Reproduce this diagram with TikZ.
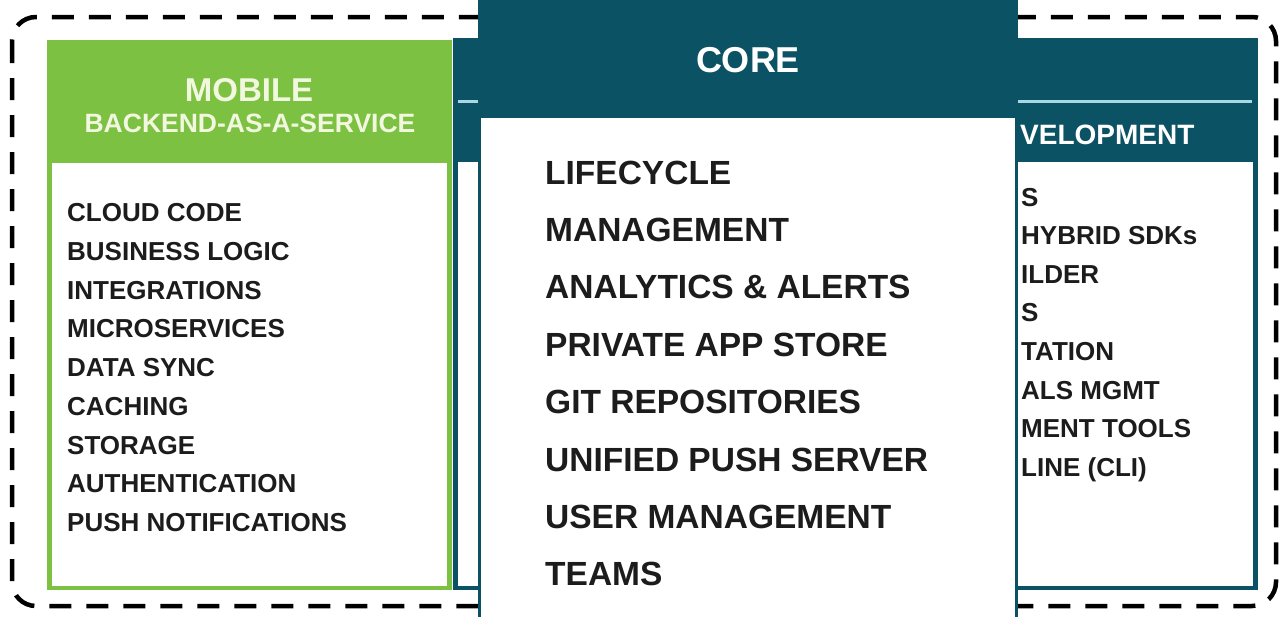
\documentclass[tikz,border=0pt]{standalone}
\usepackage{fontspec}
\setmainfont{Liberation Sans}
\definecolor{mbaasgreen}{HTML}{7DC143}
\definecolor{coreteal}{HTML}{0B5264}
\definecolor{rulecol}{HTML}{A8D8E2}
\definecolor{cream}{HTML}{F2F8DF}
\definecolor{ink}{HTML}{1C1C1C}
\begin{document}
\begin{tikzpicture}[x=1pt, y=-1pt,
            frame/.style={black, line width=4.5pt, dash pattern=on 22pt off 15pt, rounded corners=24pt},
            greenbox/.style={fill=mbaasgreen},
            tealbox/.style={fill=coreteal},
            body/.style={fill=white},
            hline/.style={rulecol, line width=3pt},
            item/.style={anchor=base west, inner sep=0pt, text=ink, font=\bfseries\fontsize{26}{26}\selectfont},
            coreitem/.style={anchor=base west, inner sep=0pt, text=ink, font=\bfseries\fontsize{33.5}{33.5}\selectfont},
            head/.style={inner sep=0pt, font=\bfseries\fontsize{#1}{#1}\selectfont},
        ]
        \useasboundingbox (0,0) rectangle (1280,616);

        \draw[frame] (12,17) rectangle (1276,606);

        \fill[greenbox] (47,40) rectangle (452,590);
        \fill[body] (52,163) rectangle (447,586);

        \fill[tealbox] (453,38) rectangle (1258,590);
        \fill[body] (458,162) rectangle (1253,586);
        \draw[hline] (458,101) -- (1252,101);

        \fill[tealbox] (478,-5) rectangle (1018,621);
        \fill[body] (481,118) rectangle (1015,621);

        \node[head=33, text=cream] (mbaas) at (249,90) {MOBILE};
        \node[head=26.5, text=cream] (mbaassub) at (250,123) {BACKEND-AS-A-SERVICE};
        \node[head=36, text=white] (core) at (748,60) {CORE};
        \node[head=28, text=white, anchor=west] (clientdev) at (1020,135) {VELOPMENT};

        \node[item] (cloud) at (67,221.5) {CLOUD CODE};
        \node[item] (logic) at (67,260.25) {BUSINESS LOGIC};
        \node[item] (integ) at (67,299) {INTEGRATIONS};
        \node[item] (micro) at (67,337.75) {MICROSERVICES};
        \node[item] (sync) at (67,376.5) {DATA SYNC};
        \node[item] (cache) at (67,415.25) {CACHING};
        \node[item] (store) at (67,454) {STORAGE};
        \node[item] (auth) at (67,492.75) {AUTHENTICATION};
        \node[item] (push) at (67,531.5) {PUSH NOTIFICATIONS};

        \node[coreitem] (life) at (545,184) {LIFECYCLE};
        \node[coreitem] (mgmt) at (545,241.4) {MANAGEMENT};
        \node[coreitem] (alerts) at (545,298.8) {ANALYTICS \& ALERTS};
        \node[coreitem] (appstore) at (545,356.2) {PRIVATE APP STORE};
        \node[coreitem] (git) at (545,413.6) {GIT REPOSITORIES};
        \node[coreitem] (ups) at (545,471) {UNIFIED PUSH SERVER};
        \node[coreitem] (users) at (545,528.4) {USER MANAGEMENT};
        \node[coreitem] (teams) at (545,585.8) {TEAMS};

        \node[item] (cd1) at (1021,206) {S};
        \node[item] (cd2) at (1021,244.6) {HYBRID SDKs};
        \node[item] (cd3) at (1021,283.2) {ILDER};
        \node[item] (cd4) at (1021,321.8) {S};
        \node[item] (cd5) at (1021,360.4) {TATION};
        \node[item] (cd6) at (1021,399) {ALS MGMT};
        \node[item] (cd7) at (1021,437.6) {MENT TOOLS};
        \node[item] (cd8) at (1021,476.2) {LINE (CLI)};
    \end{tikzpicture}
\end{document}
